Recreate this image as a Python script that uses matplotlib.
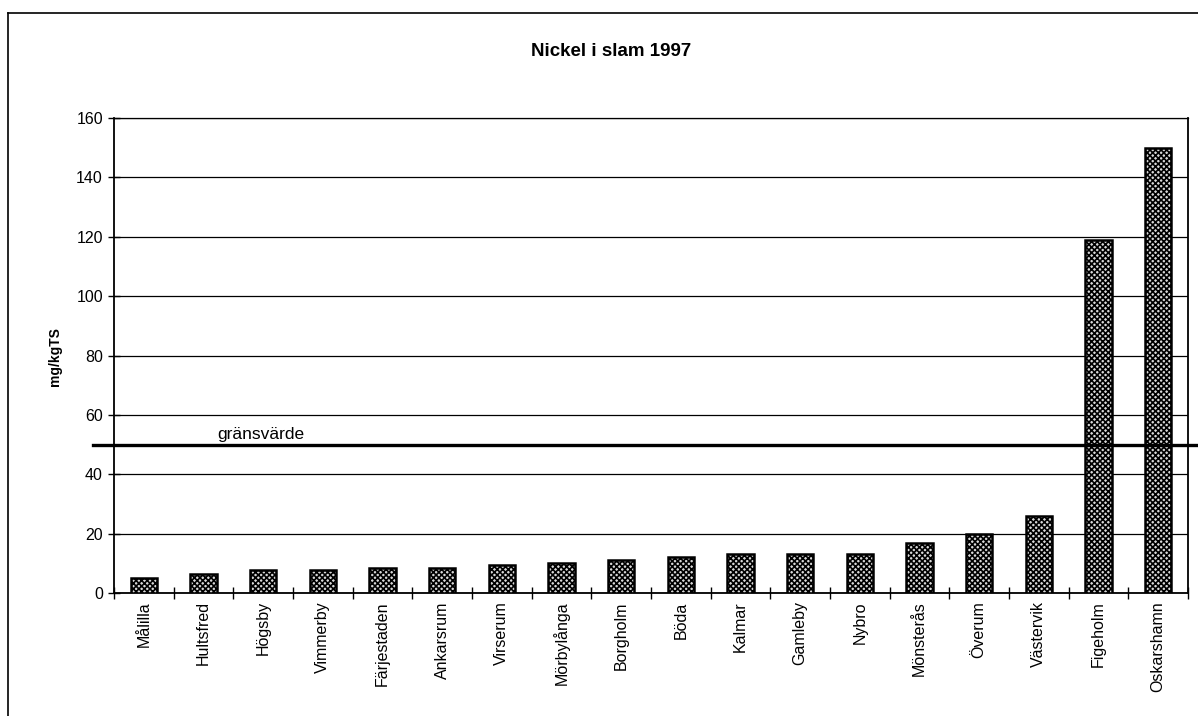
import matplotlib
matplotlib.use("Agg")
import matplotlib.pyplot as plt
from matplotlib.lines import Line2D

plt.rcParams['font.family'] = ['Liberation Sans', 'DejaVu Sans']
plt.rcParams['hatch.linewidth'] = 1.2

categories = ["Målilla", "Hultsfred", "Högsby", "Vimmerby", "Färjestaden", "Ankarsrum",
              "Virserum", "Mörbylånga", "Borgholm", "Böda", "Kalmar", "Gamleby", "Nybro",
              "Mönsterås", "Överum", "Västervik", "Figeholm", "Oskarshamn"]
values = [5, 6.5, 7.8, 7.8, 8.5, 8.5, 9.5, 10, 11, 12, 13, 13, 13, 17, 20, 26, 119, 150]
threshold = 50
threshold_label = "gränsvärde"
yticks = [0, 20, 40, 60, 80, 100, 120, 140, 160]
title = "Nickel i slam 1997"
ylabel = "mg/kgTS"

W, H = 1198, 716
fig = plt.figure(figsize=(W / 100, H / 100), dpi=100)
ax = fig.add_axes([114 / W, 1 - 593 / H, (1188 - 114) / W, (593 - 118) / H])

x = list(range(len(categories)))
ax.bar(x, values, width=0.44, color='#d8d8d8', edgecolor='black', linewidth=1.8,
       hatch='xxxxxx', zorder=3)

ax.set_xlim(-0.5, len(categories) - 0.5)
ax.set_ylim(0, 160)
ax.set_yticks(yticks)
ax.set_yticklabels([str(v) for v in yticks], fontsize=11.5)
ax.yaxis.grid(True, color='black', linewidth=0.9, zorder=0)
ax.set_axisbelow(True)

ax.set_xticks([i + 0.5 for i in range(-1, len(categories))])
ax.set_xticklabels([])
ax.set_xticks(x, minor=True)
ax.set_xticklabels(categories, minor=True, rotation=90, fontsize=11.5)
ax.tick_params(axis='x', which='minor', length=0, pad=6)
ax.tick_params(axis='x', which='major', direction='inout', length=8, width=1)
ax.tick_params(axis='y', direction='inout', length=8, width=1, pad=4)

for s in ax.spines.values():
    s.set_linewidth(1.3)
ax.spines['top'].set_linewidth(0.9)

ax.axhline(threshold, xmin=(93 - 114) / 1074, xmax=(1200 - 114) / 1074,
           color='black', linewidth=2.4, clip_on=False, zorder=4)
ax.text((217 - 114) / 1074, threshold + 0.8, threshold_label,
        transform=ax.get_yaxis_transform(),
        fontsize=12.5, ha='left', va='bottom', zorder=5)

fig.text(611 / W, 1 - 52 / H, title, fontsize=13.5, fontweight='bold',
         ha='center', va='center')
fig.text(55 / W, 1 - 357 / H, ylabel, fontsize=10, fontweight='bold',
         rotation=90, ha='center', va='center')

fig.add_artist(Line2D([8 / W, 8 / W], [0, 1 - 13 / H], color='black', linewidth=1.2,
                      transform=fig.transFigure))
fig.add_artist(Line2D([8 / W, 1], [1 - 13 / H, 1 - 13 / H], color='black', linewidth=1.2,
                      transform=fig.transFigure))

fig.savefig("out.png", dpi=100)
